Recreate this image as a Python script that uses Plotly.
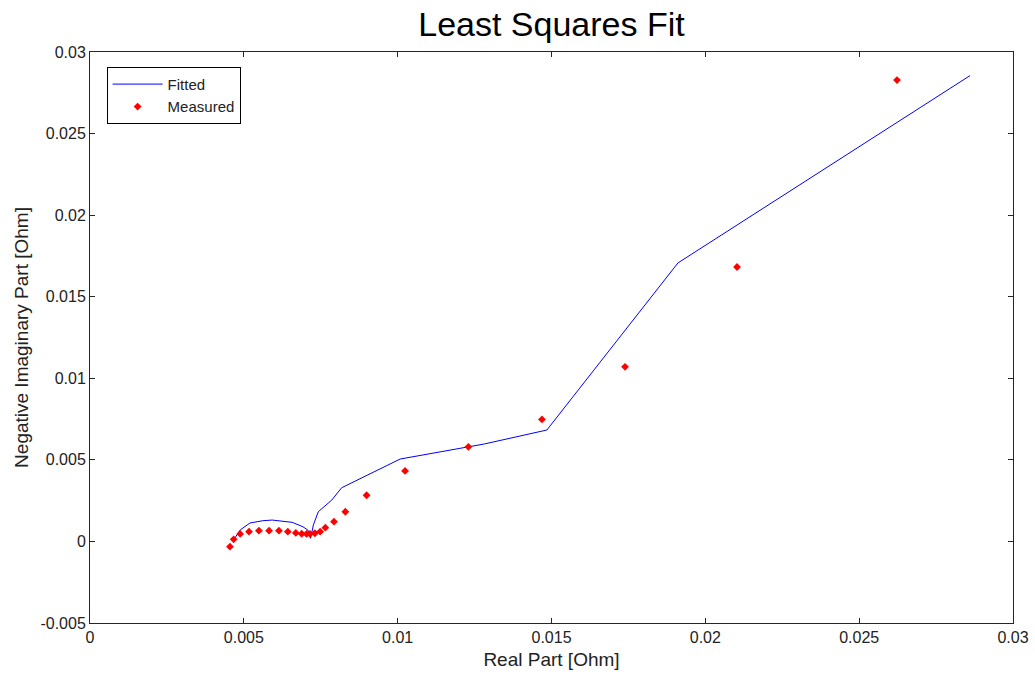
import plotly.graph_objects as go

# Measured data (real part, negative imaginary part) [Ohm]
measured_re = [0.00455, 0.00467, 0.00488, 0.00517, 0.00549, 0.00582, 0.00614, 0.00643,
               0.00669, 0.00688, 0.00704, 0.00715, 0.00731, 0.00748, 0.00765, 0.00793,
               0.00830, 0.00899, 0.01024, 0.01230, 0.01469, 0.01739, 0.02103, 0.02623]
measured_im = [-0.00032, 0.00013, 0.00046, 0.00060, 0.00066, 0.00066, 0.00066, 0.00060,
               0.00052, 0.00047, 0.00046, 0.00046, 0.00050, 0.00060, 0.00084, 0.00121,
               0.00182, 0.00283, 0.00432, 0.00580, 0.00748, 0.01070, 0.01682, 0.02828]

# Fitted model curve
fitted_re = [0.00468, 0.00488, 0.00520, 0.00562, 0.00592, 0.00657, 0.00692, 0.00708,
             0.00717, 0.00726, 0.00742, 0.00786, 0.00818, 0.01008, 0.01281, 0.01485,
             0.01911, 0.02860]
fitted_im = [0.00012, 0.00070, 0.00113, 0.00127, 0.00131, 0.00117, 0.00090, 0.00070,
             0.00019, 0.00101, 0.00182, 0.00254, 0.00329, 0.00505, 0.00597, 0.00683,
             0.01707, 0.02855]

x_ticks = [0, 0.005, 0.01, 0.015, 0.02, 0.025, 0.03]
x_ticktext = ["0", "0.005", "0.01", "0.015", "0.02", "0.025", "0.03"]
y_ticks = [-0.005, 0, 0.005, 0.01, 0.015, 0.02, 0.025, 0.03]
y_ticktext = ["-0.005", "0", "0.005", "0.01", "0.015", "0.02", "0.025", "0.03"]

FONT = "Liberation Sans, Arial, sans-serif"

fig = go.Figure()
fig.add_trace(go.Scatter(x=fitted_re, y=fitted_im, mode="lines", name="Fitted",
                         line=dict(color="rgb(0,0,255)", width=1)))
fig.add_trace(go.Scatter(x=measured_re, y=measured_im, mode="markers", name="Measured",
                         marker=dict(color="rgb(255,0,0)", size=6, symbol="diamond",
                                     line=dict(width=0))))

axis_common = dict(showgrid=False, zeroline=False, showline=True, linecolor="#262626",
                   linewidth=1, mirror="ticks", ticks="inside", ticklen=5,
                   tickcolor="#262626", automargin=False,
                   tickfont=dict(family=FONT, size=16, color="#222"))

fig.update_layout(
    width=1035, height=677,
    margin=dict(l=90, r=22, t=52, b=54),
    paper_bgcolor="white", plot_bgcolor="white",
    font=dict(family=FONT, color="#222"),
    title=dict(text="Least Squares Fit", x=0.5, xref="paper", y=1 - 24 / 677,
               yanchor="middle", xanchor="center",
               font=dict(family=FONT, size=34, color="black")),
    xaxis=dict(range=[0, 0.03], tickvals=x_ticks, ticktext=x_ticktext,
               title=dict(text="Real Part [Ohm]", font=dict(family=FONT, size=19, color="#222"),
                          standoff=7),
               **axis_common),
    yaxis=dict(range=[-0.005, 0.03], tickvals=y_ticks, ticktext=y_ticktext,
               title=dict(text="Negative Imaginary Part [Ohm]",
                          font=dict(family=FONT, size=19, color="#222"), standoff=6),
               **axis_common),
    legend=dict(x=0.018, y=0.974, xanchor="left", yanchor="top",
                bgcolor="white", bordercolor="black", borderwidth=1,
                font=dict(family=FONT, size=15, color="#222"),
                itemwidth=50, tracegroupgap=0),
    showlegend=True,
)

fig.write_html("out.html")
